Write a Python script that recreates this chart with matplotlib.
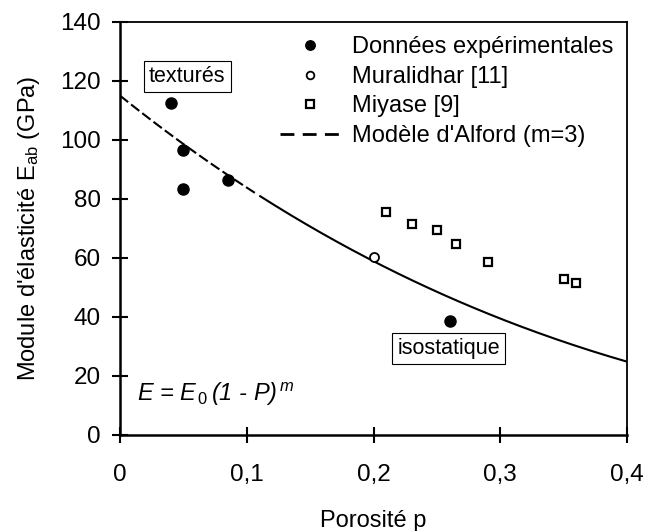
import numpy as np
import matplotlib
matplotlib.use("Agg")
import matplotlib.pyplot as plt
from matplotlib.ticker import FuncFormatter
from matplotlib.lines import Line2D

plt.rcParams['font.family'] = ['Liberation Sans', 'DejaVu Sans']
plt.rcParams['mathtext.fontset'] = 'custom'
plt.rcParams['mathtext.rm'] = 'Liberation Sans'
plt.rcParams['mathtext.it'] = 'Liberation Sans:italic'

# experimental data (porosity, modulus GPa)
exp_p = [0.04, 0.05, 0.05, 0.085, 0.26]
exp_E = [112.5, 96.5, 83.2, 86.5, 38.8]
mur_p = [0.20]
mur_E = [60.3]
miy_p = [0.21, 0.23, 0.25, 0.265, 0.29, 0.35, 0.36]
miy_E = [75.6, 71.6, 69.6, 64.6, 58.7, 52.7, 51.6]

# Alford model parameters
E0 = 115.0
m = 3

p = np.linspace(0, 0.4, 200)
E = E0 * (1 - p) ** m

fig = plt.figure(figsize=(6.46, 5.31), dpi=100)
ax = fig.add_axes([0.1858, 0.1808, 0.785, 0.778])

ax.plot(p[p <= 0.11], E[p <= 0.11], 'k--', lw=1.5, dashes=(5, 1.8))
ax.plot(p[p >= 0.11], E[p >= 0.11], 'k-', lw=1.5)
h_exp, = ax.plot(exp_p, exp_E, 'o', color='k', ms=8, ls='none')
h_mur, = ax.plot(mur_p, mur_E, 'o', mfc='white', mec='k', mew=1.3, ms=6.5, ls='none')
h_miy, = ax.plot(miy_p, miy_E, 's', mfc='white', mec='k', mew=1.6, ms=6.3, ls='none')
h_mod = Line2D([], [], color='k', lw=2, dashes=(5, 3))

ax.set_xlim(0, 0.4)
ax.set_ylim(0, 140)
ax.set_xticks([0, 0.1, 0.2, 0.3, 0.4])
ax.set_yticks(range(0, 141, 20))
ax.xaxis.set_major_formatter(FuncFormatter(lambda v, pos: ('%g' % round(v, 2)).replace('.', ',')))
ax.tick_params(direction='inout', length=12, width=1.5, labelsize=17.5, pad=8)
ax.tick_params(axis='x', pad=15)
for s in ax.spines.values():
    s.set_linewidth(1.3)
ax.spines['left'].set_linewidth(1.8)
ax.spines['bottom'].set_linewidth(1.8)

ax.set_xlabel('Porosité p', fontsize=17, labelpad=17)
ax.set_ylabel("Module d'élasticité E$_{\\mathrm{ab}}$ (GPa)", fontsize=17, labelpad=13)

ax.legend([h_exp, h_mur, h_miy, h_mod],
          ['Données expérimentales', 'Muralidhar [11]', 'Miyase [9]', "Modèle d'Alford (m=3)"],
          loc='upper left', frameon=False, fontsize=17, handlelength=2.55, handletextpad=0.5,
          labelspacing=0.32, markerscale=0.85, borderpad=0, borderaxespad=0,
          bbox_to_anchor=(0.3156, 0.965))

box = dict(boxstyle='square,pad=0.25', fc='white', ec='k', lw=0.8)
ax.text(0.053, 121.5, 'texturés', fontsize=15.5, ha='center', va='center', bbox=box)
ax.text(0.2592, 29.3, 'isostatique', fontsize=15.5, ha='center', va='center', bbox=box)
ax.text(0.0135, 13.8, 'E = E$_{\\,\\mathit{0}}\\,$(1 - P)$^{\\,\\mathit{m}}$', style='italic',
        fontsize=17, ha='left', va='center')

fig.savefig('out.png', dpi=100)
